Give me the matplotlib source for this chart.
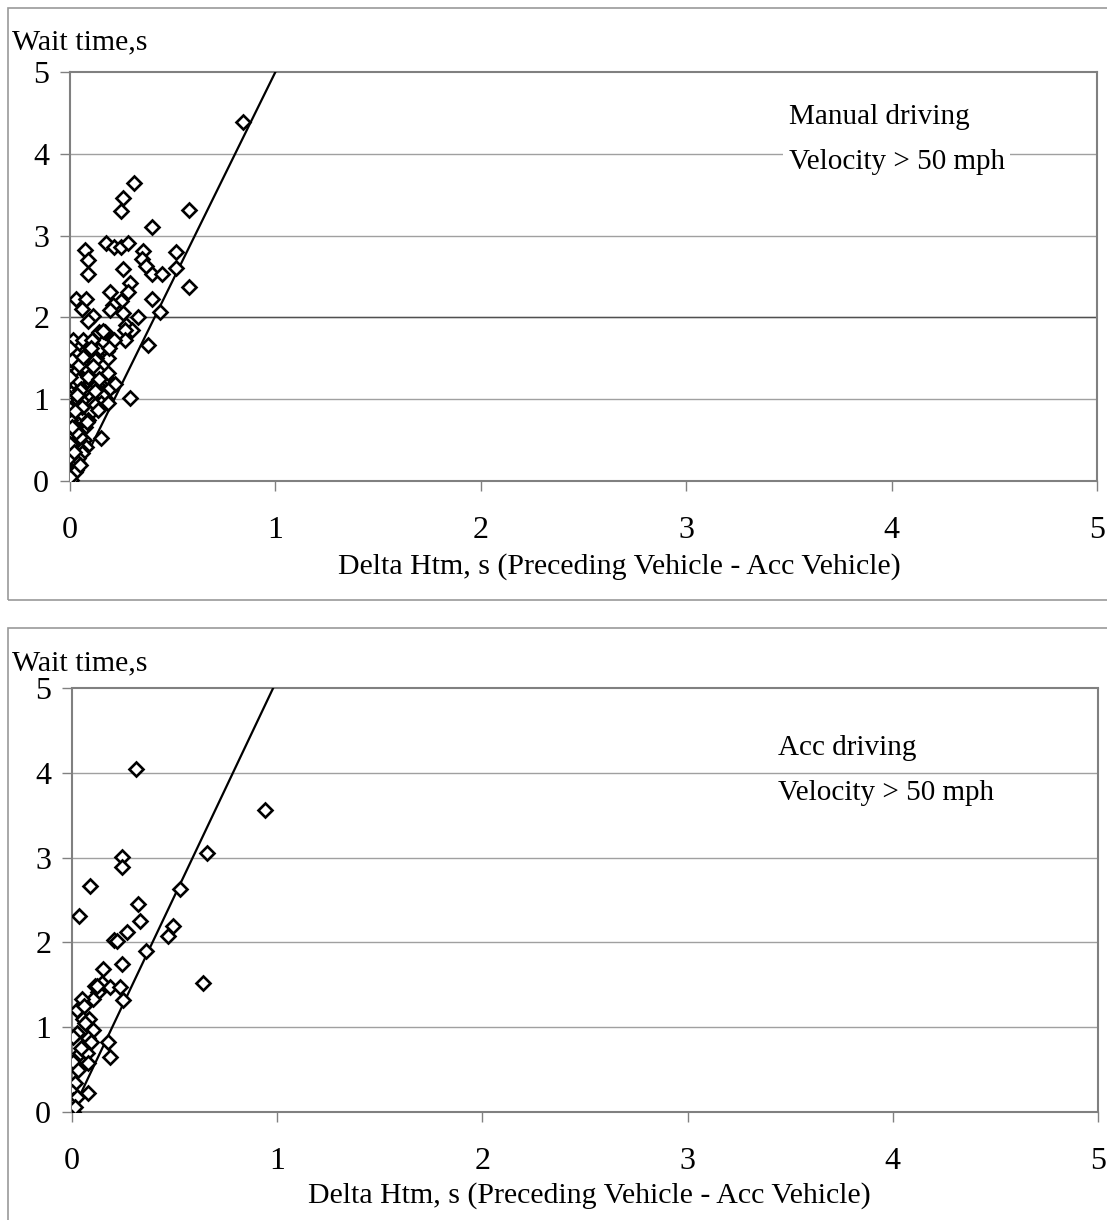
import matplotlib.pyplot as plt
from matplotlib.patches import Rectangle

plt.rcParams['font.family'] = ['Liberation Serif', 'DejaVu Serif']

# manual driving, velocity > 50 mph
manual_x = [0.84, 0.31, 0.26, 0.25, 0.58, 0.40,
            0.075, 0.09, 0.09, 0.175, 0.215, 0.25, 0.28, 0.26, 0.355, 0.35, 0.37, 0.40, 0.45,
            0.515, 0.515, 0.29, 0.28, 0.196, 0.58, 0.40, 0.03, 0.08, 0.25,
            0.057, 0.21, 0.195, 0.26, 0.11, 0.09, 0.33, 0.44, 0.275, 0.30, 0.27, 0.14, 0.17,
            0.38, 0.27, 0.215, 0.016, 0.065, 0.105, 0.16,
            0.18, 0.186, 0.136, 0.08, 0.023, 0.19,
            0.023, 0.07, 0.128, 0.12,
            0.016, 0.08, 0.136, 0.185, 0.023,
            0.006, 0.055, 0.10, 0.15, 0.21, 0.22, 0.186, 0.13, 0.04,
            0.055, 0.096, 0.006, 0.15, 0.05,
            0.0, 0.04, 0.10, 0.17, 0.29, 0.154,
            0.03, 0.07, 0.11, 0.15, 0.185, 0.12, 0.008,
            0.015, 0.055, 0.096, 0.136, 0.05,
            0.0, 0.04, 0.088, 0.0, 0.073, 0.024,
            0.15, 0.006, 0.04, 0.07, 0.015, 0.0, 0.05,
            0.08, 0.024, 0.0, 0.055, 0.057, 0.024,
            0.04, 0.006, 0.0, 0.04,
            0.015, 0.03, 0.008, 0.024, 0.006, 0.0,
            0.0, 0.01, 0.0, 0.045, 0.09, 0.11, 0.06, 0.03, 0.0, 0.12,
            0.065, 0.10, 0.035, 0.0, 0.02, 0.14, 0.085, 0.05, 0.01, 0.025]
manual_y = [4.39, 3.64, 3.46, 3.30, 3.31, 3.10,
            2.82, 2.70, 2.53, 2.91, 2.86, 2.86, 2.91, 2.59, 2.81, 2.71, 2.63, 2.53, 2.53,
            2.80, 2.60, 2.42, 2.31, 2.31, 2.37, 2.23, 2.22, 2.22, 2.20,
            2.10, 2.15, 2.09, 2.05, 2.02, 1.95, 2.00, 2.07, 1.91, 1.85, 1.85, 1.82, 1.82,
            1.66, 1.72, 1.72, 1.72, 1.72, 1.72, 1.83,
            1.59, 1.50, 1.60, 1.60, 1.56, 1.62,
            1.44, 1.48, 1.50, 1.48,
            1.36, 1.38, 1.34, 1.32, 1.32,
            1.19, 1.23, 1.19, 1.17, 1.17, 1.19, 1.11, 1.17, 1.23,
            1.13, 1.09, 1.08, 1.07, 1.11,
            1.02, 1.01, 1.03, 1.01, 1.01, 1.05,
            0.95, 0.95, 0.95, 0.95, 0.95, 0.93, 0.89,
            0.81, 0.83, 0.83, 0.87, 0.79,
            0.70, 0.70, 0.75, 0.75, 0.66, 0.66,
            0.52, 0.58, 0.60, 0.50, 0.48, 0.54, 0.54,
            0.42, 0.42, 0.38, 0.38, 0.34, 0.30,
            0.28, 0.26, 0.24, 0.22,
            0.16, 0.13, 0.11, 0.11, 0.01, 0.05,
            1.62, 1.48, 1.27, 1.42, 1.27, 1.40, 0.90, 0.60, 0.45, 1.10,
            1.52, 1.63, 1.05, 0.88, 0.35, 1.25, 0.72, 0.20, 0.66, 0.85]

# acc driving, velocity > 50 mph
acc_x = [0.31, 0.94, 0.245, 0.245, 0.66, 0.09, 0.526, 0.32, 0.034, 0.33, 0.27, 0.206,
         0.22, 0.49, 0.47, 0.36, 0.245, 0.15, 0.64, 0.11, 0.145, 0.185, 0.234, 0.125,
         0.247, 0.10, 0.05, 0.023, 0.06, 0.055, 0.084, 0.10, 0.023, 0.006, 0.076, 0.093,
         0.177, 0.04, 0.075, 0.185, 0.006, 0.08, 0.03, 0.015, 0.08, 0.0, 0.006, 0.023,
         0.006, 0.015, 0.12, 0.045, 0.065]
acc_y = [4.05, 3.56, 3.01, 2.89, 3.05, 2.67, 2.63, 2.45, 2.31, 2.25, 2.12, 2.03,
         2.02, 2.19, 2.08, 1.90, 1.75, 1.69, 1.52, 1.49, 1.52, 1.47, 1.47, 1.42,
         1.32, 1.33, 1.33, 1.20, 1.25, 1.10, 1.10, 0.97, 0.93, 0.89, 0.87, 0.82,
         0.82, 0.69, 0.69, 0.65, 0.59, 0.58, 0.50, 0.34, 0.22, 0.24, 0.14, 0.18,
         0.0, 0.06, 1.48, 0.75, 1.05]

# fitted line: slope, intercept
manual_fit = (5.1, -0.1)
acc_fit = (5.1, 0.0)

ticks = [0, 1, 2, 3, 4, 5]
xlabel = 'Delta Htm, s (Preceding Vehicle - Acc Vehicle)'
ylabel = 'Wait time,s'

W, H = 1107, 1220


def plot_panel(ax, xs, ys, fit, notes, note_x, note_y):
    m, b = fit
    x0 = max(0.0, -b / m)
    x1 = (5 - b) / m
    ax.plot([x0, x1], [m * x0 + b, m * x1 + b], color='black', lw=1.6, zorder=3)
    ax.plot(xs, ys, 'D', ms=7.5, mfc='white', mec='black', mew=1.9, zorder=4,
            linestyle='none')

    ax.set_xlim(0, 5)
    ax.set_ylim(0, 5)
    ax.set_xticks(ticks)
    ax.set_yticks(ticks)
    ax.tick_params(axis='both', labelsize=23, direction='out', length=7,
                   color='#808080', width=1)
    ax.tick_params(axis='x', pad=18)
    ax.tick_params(axis='y', pad=8)
    for t in [1, 2, 3, 4]:
        ax.axhline(t, color='#a0a0a0', lw=1, zorder=1)
    for s in ax.spines.values():
        s.set_color('#808080')
        s.set_linestyle((0, (1, 1)))
        s.set_linewidth(1.5)

    for line, yv in zip(notes, note_y):
        ax.text(note_x, yv, line, fontsize=21, ha='left', va='center', zorder=5,
                bbox=dict(facecolor='white', edgecolor='none', pad=4))
    return ax


fig = plt.figure(figsize=(11.07, 12.20), dpi=100)

# outer frames of the two pasted charts
fig.add_artist(Rectangle((8 / W, 1 - 600 / H), 1.05, 592 / H, transform=fig.transFigure,
                         fill=False, edgecolor='#999999', lw=1.2))
fig.add_artist(Rectangle((8 / W, -0.05), 1.05, 1.05 - 628 / H, transform=fig.transFigure,
                         fill=False, edgecolor='#999999', lw=1.2))

ax1 = fig.add_axes([70 / W, 1 - 481 / H, 1027 / W, 409 / H])
plot_panel(ax1, manual_x, manual_y, manual_fit,
           ['Manual driving', 'Velocity > 50 mph'], 3.50, [4.45, 3.90])
ax1.axhline(2, color='#505050', lw=1, zorder=1)

ax2 = fig.add_axes([72 / W, 1 - 1112 / H, 1026 / W, 424 / H])
plot_panel(ax2, acc_x, acc_y, acc_fit,
           ['Acc driving', 'Velocity > 50 mph'], 3.44, [4.29, 3.76])

fig.text(12 / W, 1 - 42 / H, ylabel, fontsize=21.5, ha='left', va='center')
fig.text(12 / W, 1 - 663 / H, ylabel, fontsize=21.5, ha='left', va='center')
fig.text(619 / W, 1 - 567 / H, xlabel, fontsize=21.5, ha='center', va='center')
fig.text(589 / W, 1 - 1196 / H, xlabel, fontsize=21.5, ha='center', va='center')

plt.savefig('out.png', dpi=100)
